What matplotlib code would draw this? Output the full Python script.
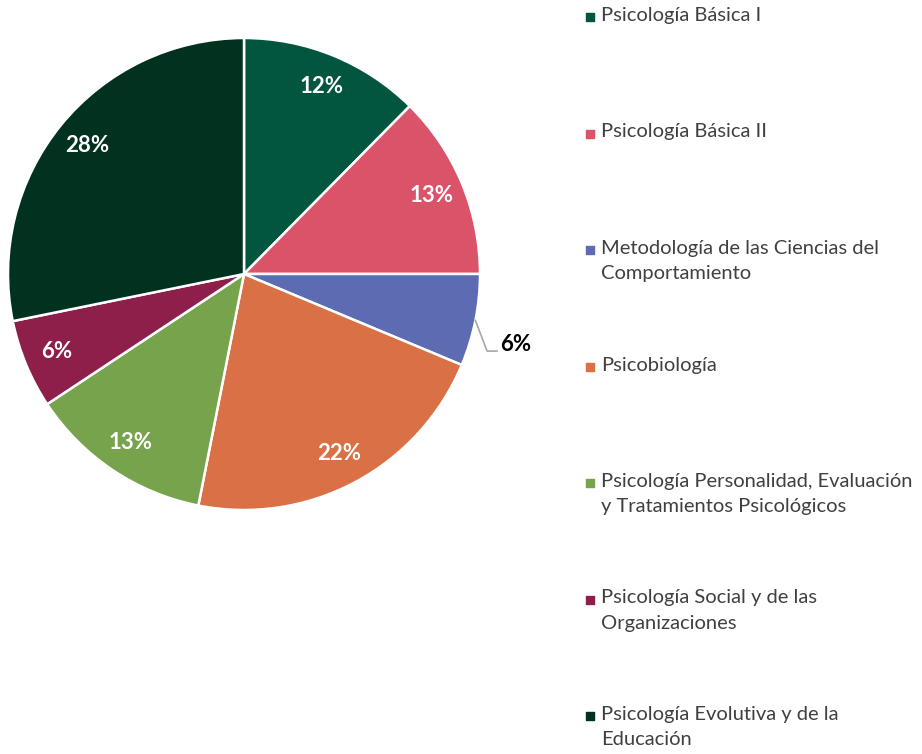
import matplotlib.pyplot as plt
import numpy as np

categories = [
    'Psicología Básica I',
    'Psicología Básica II',
    'Metodología de las Ciencias del\nComportamiento',
    'Psicobiología',
    'Psicología Personalidad, Evaluación\ny Tratamientos Psicológicos',
    'Psicología Social y de las\nOrganizaciones',
    'Psicología Evolutiva y de la\nEducación',
]
shares = [12.4, 12.6, 6.3, 21.8, 12.6, 6.1, 28.2]
colors = ['#02553F', '#DB5369', '#5C6BB2', '#D97046', '#76A34C', '#8E1F4A', '#00321F']

plt.rcParams['font.family'] = ['Lato', 'DejaVu Sans']

fig = plt.figure(figsize=(9.22, 7.54), dpi=100)

# pie: centre (244, 274) px, radius 236 px
cx, cy, r = 244, 274, 236
ax = fig.add_axes([(cx - r) / 922, (754 - cy - r) / 754, 2 * r / 922, 2 * r / 754])
wedges, texts, autotexts = ax.pie(
    shares, colors=colors, startangle=90, counterclock=False,
    autopct='%.0f%%', pctdistance=0.86,
    wedgeprops=dict(edgecolor='white', linewidth=1.8),
    textprops=dict(color='white', fontsize=16, fontweight='bold'))
ax.set_xlim(-1, 1)
ax.set_ylim(-1, 1)
ax.set_aspect('equal')

# small slice label outside with leader line
w = wedges[2]
mid = np.deg2rad((w.theta1 + w.theta2) / 2)
t = autotexts[2]
t.set_color('black')
ex, ey = np.cos(mid), np.sin(mid)
ly = ey - 0.13
t.set_position((1.085, ly + 0.03))
t.set_ha('left')
ax.plot([ex, 1.03, 1.072], [ey, ly, ly], color='#A6A6A6', lw=1.2, clip_on=False)

# legend drawn manually
lax = fig.add_axes([0, 0, 1, 1])
lax.set_xlim(0, 922)
lax.set_ylim(754, 0)
lax.axis('off')
for i, (lab, c) in enumerate(zip(categories, colors)):
    y = 17 + i * 116.5
    lax.scatter([590], [y], marker='s', s=40, color=c)
    lax.text(601, y - 10, lab, fontsize=14.5, color='#404040', va='top',
             linespacing=1.6)

fig.savefig('out.png', dpi=100)
